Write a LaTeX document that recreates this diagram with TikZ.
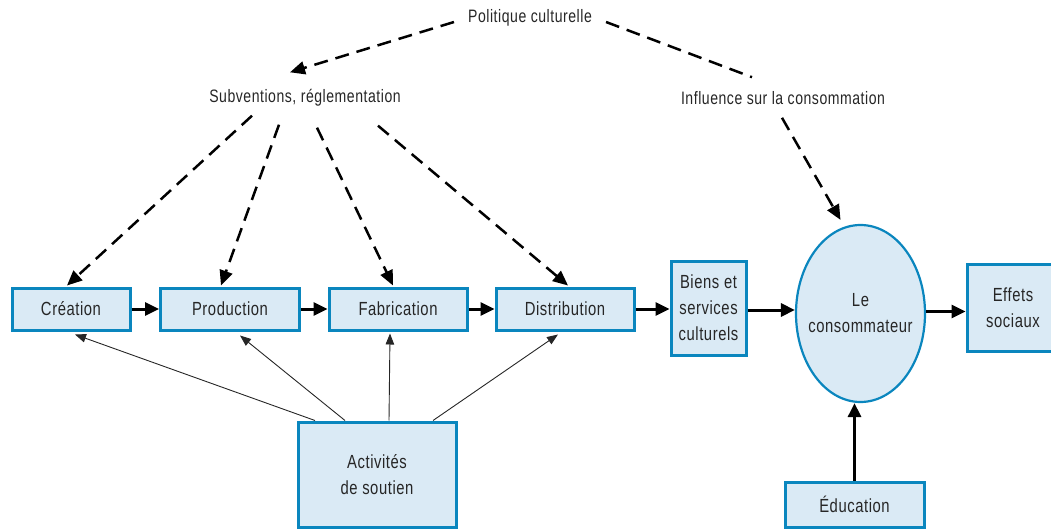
\documentclass[tikz,border=0pt]{standalone}
\usepackage{fontspec}
\setmainfont[FakeStretch=0.78,LetterSpace=3]{Liberation Sans}
\usetikzlibrary{arrows.meta,shapes.geometric,calc}
\definecolor{boxfill}{RGB}{218,234,245}
\definecolor{boxline}{RGB}{10,134,190}
\definecolor{txt}{RGB}{38,38,38}
\begin{document}
\begin{tikzpicture}[x=1pt,y=-1pt,
  every node/.style={text=txt, align=center},
  lbl/.style={font=\fontsize{18}{25}\selectfont, inner sep=4pt},
  bx/.style={draw=boxline, fill=boxfill, line width=3pt, rectangle, inner sep=0pt,
     font=\fontsize{19}{26}\selectfont},
  thk/.style={line width=3pt, -{Triangle[length=14pt,width=13pt]}},
  thin/.style={line width=0.9pt, draw=black!85, -{Triangle[length=11pt,width=8.5pt]}},
  dsh/.style={line width=2.5pt, dash pattern=on 14pt off 8pt},
  dsharr/.style={dsh, -{Triangle[length=15pt,width=13pt]}}
]
\useasboundingbox (0,0) rectangle (1051,529);
% labels
\node[lbl] (pol) at (530,18) {Politique culturelle};
\node[lbl] (sub) at (305,98) {Subventions, réglementation};
\node[lbl] (inf) at (783,98) {Influence sur la consommation};
% boxes
\node[bx, minimum width=118, minimum height=42] (crea) at (71,309) {Création};
\node[bx, minimum width=139, minimum height=42] (prod) at (230,309) {Production};
\node[bx, minimum width=138, minimum height=42] (fab) at (398,309) {Fabrication};
\node[bx, minimum width=138, minimum height=42] (dist) at (565,309) {Distribution};
\node[bx, minimum width=75, minimum height=94] (biens) at (708.5,308) {Biens et\\services\\culturels};
\node[bx, ellipse, line width=2.2pt, inner xsep=-20pt, inner ysep=-6pt, minimum width=129, minimum height=177] (ell) at (860.5,313.5) {Le\\consommateur};
\node[bx, minimum width=92, minimum height=87] (eff) at (1013,307.5) {Effets\\sociaux};
\node[bx, minimum width=158, minimum height=105] (act) at (377,474.5) {Activités\\de soutien};
\node[bx, minimum width=139, minimum height=45] (edu) at (854.5,504.5) {Éducation};
% thick flow arrows
\draw[thk] (crea.east) -- (prod.west);
\draw[thk] (prod.east) -- (fab.west);
\draw[thk] (fab.east) -- (dist.west);
\draw[thk] (dist.east) -- (dist.east -| biens.west);
\draw[thk] ([yshift=-2pt]biens.east) -- ([yshift=-2pt]biens.east -| ell.west);
\draw[thk] ([yshift=2pt]ell.east) -- ([yshift=2pt]ell.east -| eff.west);
\draw[thk] (edu.north) -- (edu.north |- ell.south);
% dashed arrows
\draw[dsharr] ([xshift=-10pt,yshift=-4pt]pol.west) -- ([xshift=-15pt,yshift=13pt]sub.north);
\draw[dsh] ([xshift=10pt,yshift=-4pt]pol.east) -- ([xshift=-31pt,yshift=10pt]inf.north);
\draw[dsharr] ([xshift=-1pt,yshift=-9pt]inf.south) -- ([xshift=-20pt,yshift=4pt]ell.north);
\draw[dsharr] ([xshift=-53pt,yshift=-5pt]sub.south) -- ([xshift=-4pt,yshift=1pt]crea.north);
\draw[dsharr] ([xshift=-26pt,yshift=-14pt]sub.south) -- ([xshift=-9pt,yshift=1pt]prod.north);
\draw[dsharr] ([xshift=12pt,yshift=-17pt]sub.south) -- ([xshift=-5pt,yshift=1pt]fab.north);
\draw[dsharr] ([xshift=73pt,yshift=-15pt]sub.south) -- ([xshift=3pt,yshift=1pt]dist.north);
% thin support arrows
\draw[thin] ([xshift=-62pt]act.north) -- ([xshift=4pt,yshift=-3pt]crea.south);
\draw[thin] ([xshift=-32pt]act.north) -- ([xshift=10pt,yshift=-4pt]prod.south);
\draw[thin] ([xshift=12pt]act.north) -- ([xshift=-8pt,yshift=-2pt]fab.south);
\draw[thin] ([xshift=56pt]act.north) -- ([xshift=-7pt,yshift=-3pt]dist.south);
\end{tikzpicture}
\end{document}
